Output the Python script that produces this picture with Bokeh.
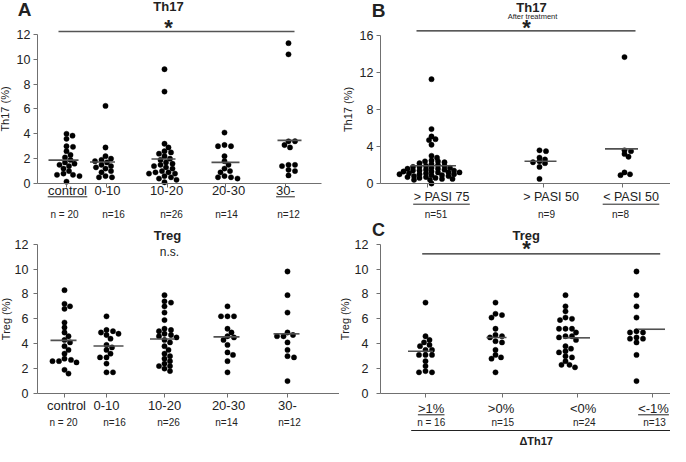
import numpy as np
from bokeh.plotting import figure
from bokeh.layouts import row, column
from bokeh.models import Range1d, FixedTicker
from bokeh.core.properties import value
from bokeh.embed import file_html
from bokeh.resources import INLINE

# ---------------- data ----------------
age_groups = ["control", "0-10", "10-20", "20-30", "30-"]
age_n = ["n = 20", "n=16", "n=26", "n=14", "n=12"]

th17_control = [4.0, 3.85, 3.6, 3.0, 2.95, 2.6, 2.3, 2.1, 1.9, 1.7, 1.6, 1.5, 1.4, 1.2, 1.0, 0.8, 0.7, 0.7, 0.6, 0.15]
th17_0_10 = [6.25, 2.9, 2.2, 2.0, 1.9, 1.8, 1.7, 1.5, 1.4, 1.3, 1.2, 1.0, 0.9, 0.6, 0.5, 0.5]
th17_10_20 = [9.2, 7.4, 3.2, 2.9, 2.6, 2.5, 2.4, 2.2, 2.0, 1.9, 1.7, 1.6, 1.5, 1.4, 1.3, 1.2, 1.0, 0.9, 0.9,
              0.8, 0.8, 0.6, 0.5, 0.4, 0.3, 0.1]
th17_20_30 = [4.1, 3.1, 3.0, 3.0, 2.2, 1.8, 1.5, 1.2, 1.0, 0.9, 0.6, 0.5, 0.5, 0.4]
th17_30 = [11.3, 10.4, 3.4, 3.4, 3.1, 2.9, 1.5, 1.5, 1.4, 1.1, 1.0, 0.65]

treg_control = [8.3, 7.2, 7.0, 6.8, 5.7, 5.3, 4.9, 4.6, 4.3, 4.1, 3.8, 3.5, 3.2, 2.8, 2.7, 2.6, 2.6, 2.5, 1.9, 1.6]
treg_0_10 = [6.2, 5.1, 5.0, 4.9, 4.8, 4.7, 4.4, 3.9, 3.7, 3.5, 3.2, 2.9, 2.9, 2.4, 1.7, 1.7]
treg_10_20 = [7.9, 7.4, 7.3, 7.0, 6.5, 5.9, 5.2, 5.1, 5.0, 4.8, 4.7, 4.6, 4.5, 4.3, 4.1, 3.8, 3.5, 3.2, 3.0,
              2.8, 2.6, 2.4, 2.2, 2.2, 2.0, 1.8]
treg_20_30 = [7.0, 6.2, 6.2, 6.2, 5.2, 4.9, 4.6, 4.5, 4.3, 3.9, 3.3, 3.1, 2.6, 1.7]
treg_30 = [9.8, 7.9, 6.5, 4.9, 4.7, 4.6, 4.6, 4.1, 3.5, 3.0, 2.9, 1.0]

pasi_groups = ["> PASI 75", "> PASI 50", "< PASI 50"]
pasi_n = ["n=51", "n=9", "n=8"]
th17_pasi75 = [11.3, 5.9, 5.1, 4.8, 4.7, 4.2, 3.0, 2.8, 2.5, 2.4, 2.4, 2.3, 2.2, 2.1, 2.0, 1.9, 1.9, 1.8, 1.8,
               1.7, 1.7, 1.6, 1.6, 1.5, 1.5, 1.4, 1.4, 1.4, 1.3, 1.3, 1.2, 1.2, 1.2, 1.1, 1.1, 1.0, 1.0, 1.0,
               0.9, 0.9, 0.8, 0.8, 0.7, 0.7, 0.6, 0.6, 0.5, 0.5, 0.4, 0.4, 0.0]
th17_pasi50 = [3.6, 3.5, 2.8, 2.6, 2.4, 2.3, 2.2, 1.8, 0.5]
th17_below50 = [13.7, 3.6, 3.5, 3.2, 2.9, 1.2, 1.0, 0.9]

dth17_groups = [">1%", ">0%", "<0%", "<-1%"]
dth17_n = ["n = 16", "n=15", "n=24", "n=13"]
treg_up1 = [7.3, 4.6, 4.3, 4.1, 3.9, 3.8, 3.5, 3.5, 3.1, 3.1, 3.1, 2.6, 2.2, 1.8, 1.7, 1.7]
treg_up0 = [7.3, 6.4, 6.3, 6.1, 5.2, 4.7, 4.6, 4.5, 4.2, 4.1, 3.5, 3.1, 2.9, 2.8, 1.7]
treg_down0 = [7.9, 7.0, 6.6, 6.1, 6.0, 5.9, 5.2, 5.2, 5.2, 4.9, 4.6, 4.6, 4.5, 4.3, 3.8, 3.6, 3.4, 3.3, 3.0,
              2.9, 2.6, 2.3, 2.3, 2.1]
treg_down1 = [9.8, 7.9, 7.0, 6.1, 5.0, 4.9, 4.9, 4.5, 4.4, 4.4, 4.1, 3.1, 1.0]

# ---------------- style / layout ----------------
FONT = "Liberation Sans"
AX = "#707070"
TXT = "#222222"
DOT = 5.3


def swarm(vals, ppu, sx=6.4, sy=4.6):
    """horizontal pixel offsets so that dots do not overlap (layout only)"""
    vals = np.asarray(vals, dtype=float)
    order = np.argsort(-vals, kind="stable")
    cands = [0.0]
    k = 0.5
    while k < 80:
        cands += [k, -k]
        k += 0.5
    placed = []
    offs = np.zeros(len(vals))
    for i in order:
        y = vals[i] * ppu
        for c in cands:
            if all(((c - px) / sx) ** 2 + ((y - py) / sy) ** 2 >= 1 - 1e-9 for px, py in placed):
                break
        placed.append((c, y))
        offs[i] = c
    return offs


def make_panel(W, H, L, R, B, ppu, ymax, ystep, ylabel, tick_std, lab_std, ticks):
    fw = W - L - R
    fh = H - B
    p = figure(width=W, height=H, x_range=Range1d(-L, W - L), y_range=Range1d(-B / ppu, fh / ppu),
               output_backend="svg", toolbar_location=None, title=None,
               min_border_left=0, min_border_right=0, min_border_top=0, min_border_bottom=0)
    p.xgrid.visible = False
    p.ygrid.visible = False
    p.outline_line_color = None
    p.background_fill_color = "white"
    p.border_fill_color = "white"
    ya = p.yaxis[0]
    ya.fixed_location = 0
    ya.bounds = (0, ymax)
    ya.ticker = FixedTicker(ticks=list(range(0, ymax + 1, ystep)))
    ya.axis_label = ylabel
    ya.axis_label_text_font = FONT
    ya.axis_label_text_font_size = "11px"
    ya.axis_label_text_font_style = "normal"
    ya.axis_label_text_color = TXT
    ya.axis_label_standoff = lab_std
    ya.major_label_text_font = FONT
    ya.major_label_text_font_size = "12.5px"
    ya.major_label_text_color = TXT
    ya.major_label_standoff = tick_std
    ya.major_tick_in = 0
    ya.major_tick_out = 4
    ya.minor_tick_line_color = None
    ya.axis_line_color = AX
    ya.major_tick_line_color = AX
    xa = p.xaxis[0]
    xa.fixed_location = 0
    xa.bounds = (0, fw)
    xa.ticker = FixedTicker(ticks=ticks)
    xa.major_label_overrides = {t: "" for t in ticks}
    xa.major_tick_in = 0
    xa.major_tick_out = 4
    xa.minor_tick_line_color = None
    xa.axis_line_color = AX
    xa.major_tick_line_color = AX
    return p, dict(L=L, fh=fh, ppu=ppu)


def yd(g, yl):
    return (g["fh"] - yl) / g["ppu"]


def text(p, g, fx, yl, s, size, bold=False, color=TXT):
    fxs = fx if isinstance(fx, list) else [fx]
    ss = s if isinstance(s, list) else [s]
    p.text(x=fxs, y=[yd(g, yl)] * len(fxs), text=ss, text_font=value(FONT),
           text_font_size=value(f"{size}px"), text_font_style="bold" if bold else "normal",
           text_align="center", text_baseline="middle", text_color=color)


def hline(p, g, fx0, fx1, yl, color="#333333", width=1.2):
    y = yd(g, yl)
    p.segment(x0=[fx0], y0=[y], x1=[fx1], y1=[y], line_color=color, line_width=width)


def draw_groups(p, g, ticks, dot_off, line_off, hws, groups_vals, sy=4.6):
    xs, ys = [], []
    for t, o, vals in zip(ticks, dot_off, groups_vals):
        offs = swarm(vals, g["ppu"], sy=sy)
        xs += list(t + o + offs)
        ys += list(vals)
    p.scatter(x=xs, y=ys, size=DOT, marker="circle", fill_color="black", line_color="black", line_width=0.4)
    means = [float(np.mean(v)) for v in groups_vals]
    x0 = [t + lo - h for t, lo, h in zip(ticks, line_off, hws)]
    x1 = [t + lo + h for t, lo, h in zip(ticks, line_off, hws)]
    p.segment(x0=x0, y0=means, x1=x1, y1=means, line_color="#505050", line_width=1.6)


def categories(p, g, ticks, names, offs, yl, size, ul=None, ul_y=None):
    xs = [t + o for t, o in zip(ticks, offs)]
    text(p, g, xs, yl, names, size)
    if ul:
        for idx, hw in ul:
            hline(p, g, xs[idx] - hw, xs[idx] + hw, ul_y, color=TXT, width=1)


# ---- Panel A, Th17 ----
ticks1 = [29, 69, 130, 188, 248]
p1, g1 = make_panel(339, 219, 37, 18, 36, 12.42, 12, 2, "Th17 (%)", 3, 3, ticks1)
draw_groups(p1, g1, ticks1, [0, -1, -3, -1, 3], [-3, -4, -4, 0, 4], [15, 12.5, 12, 14, 12],
            [th17_control, th17_0_10, th17_10_20, th17_20_30, th17_30])
text(p1, g1, -13, 8.5, "A", 19, bold=True)
text(p1, g1, 131, 6, "Th17", 13, bold=True)
hline(p1, g1, 21, 257, 31, color="#555555", width=1.5)
text(p1, g1, 131, 26.5, "*", 22, bold=True)
categories(p1, g1, ticks1, age_groups, [1, 1, -1, 3, 0], 189.5, 13, ul=[(0, 19.8), (4, 9.4)], ul_y=196.3)
categories(p1, g1, ticks1, age_n, [-2, 7, 4, 1, 3], 214, 10)

# ---- Panel A, Treg ----
ticks3 = [27, 69, 127, 190, 250]
p3, g3 = make_panel(339, 227, 37, 0, 53, 12.45, 12, 2, "Treg (%)", 5, 0, ticks3)
draw_groups(p3, g3, ticks3, [0, 0, 0, 0, 0], [-1, 2, -2, -1, -1], [13, 15, 12.5, 13, 13],
            [treg_control, treg_0_10, treg_10_20, treg_20_30, treg_30])
text(p3, g3, 130, 16, "Treg", 13, bold=True)
text(p3, g3, 132, 32.7, "n.s.", 12)
categories(p3, g3, ticks3, age_groups, [2, 0, 0, 1, 0], 185.7, 13)
categories(p3, g3, ticks3, age_n, [-1, 8, 4, -1, 2], 203, 10)

# ---- Panel B, Th17 after treatment ----
ticks2 = [47, 163, 242]
p2, g2 = make_panel(331, 219, 41, 0, 36, 9.23, 16, 4, "Th17 (%)", 3, 3, ticks2)
draw_groups(p2, g2, ticks2, [4, -4, 2], [6, -3, -1], [22.5, 16, 16.5],
            [th17_pasi75, th17_pasi50, th17_below50], sy=3.4)
text(p2, g2, -2, 10.3, "B", 19, bold=True)
text(p2, g2, 151, 7.2, "Th17", 13, bold=True)
text(p2, g2, 152, 15.5, "After treatment", 7.5)
hline(p2, g2, 36, 255, 30.3, color="#222222", width=1.3)
text(p2, g2, 146, 26.5, "*", 22, bold=True)
categories(p2, g2, ticks2, pasi_groups, [14, 7.5, 8.5], 196.5, 12.5, ul=[(0, 28.3), (2, 28.3)], ul_y=203.7)
categories(p2, g2, ticks2, pasi_n, [8.5, 3, -2], 214, 10)

# ---- Panel C, Treg by change in Th17 ----
ticks4 = [45, 122, 197, 272]
p4, g4 = make_panel(331, 227, 41, 0, 53, 12.45, 12, 2, "Treg (%)", 8, 1, ticks4)
draw_groups(p4, g4, ticks4, [0, -7, -12, -16], [-5, -6, -1, -1], [12.5, 10, 13.5, 13.5],
            [treg_up1, treg_up0, treg_down0, treg_down1])
text(p4, g4, -2, 10, "C", 18, bold=True)
text(p4, g4, 145.7, 16, "Treg", 13, bold=True)
hline(p4, g4, 41.7, 279.7, 34.3, color="#222222", width=1.3)
text(p4, g4, 146, 29, "*", 22, bold=True)
categories(p4, g4, ticks4, dth17_groups, [5.7, -1.5, 5.7, 1], 188.7, 13, ul=[(0, 13.3), (3, 15.4)], ul_y=195.3)
categories(p4, g4, ticks4, dth17_n, [5.7, 0.3, 6.8, 2], 202.5, 10)
hline(p4, g4, 30.7, 292.3, 211, color=TXT, width=1)
text(p4, g4, 155.7, 221.5, "\u0394Th17", 11, bold=True)

layout = column(row(p1, p2), row(p3, p4))
open("out.html", "w").write(file_html(layout, INLINE))
